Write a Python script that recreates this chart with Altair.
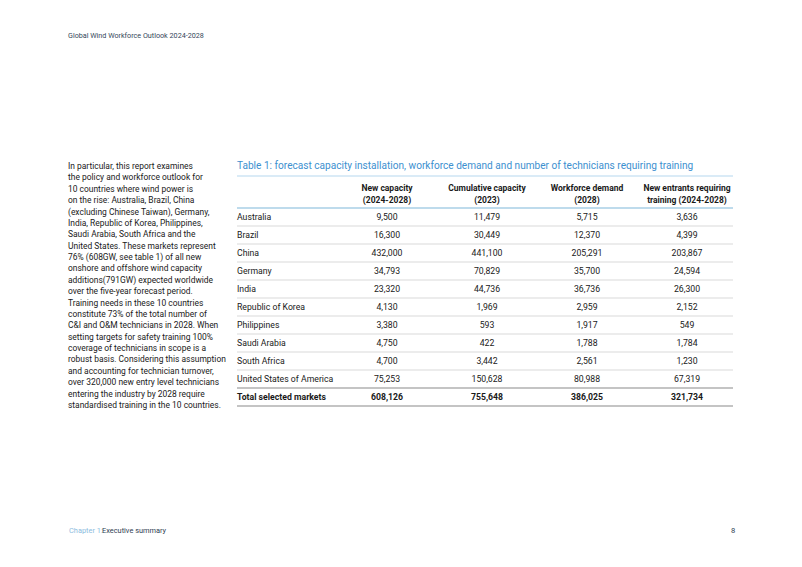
import altair as alt
import pandas as pd

# ---------------- data ----------------
countries = ["Australia", "Brazil", "China", "Germany", "India", "Republic of Korea",
             "Philippines", "Saudi Arabia", "South Africa", "United States of America",
             "Total selected markets"]
new_capacity = [9500, 16300, 432000, 34793, 23320, 4130, 3380, 4750, 4700, 75253, 608126]
cumulative = [11479, 30449, 441100, 70829, 44736, 1969, 593, 422, 3442, 150628, 755648]
workforce = [5715, 12370, 205291, 35700, 36736, 2959, 1917, 1788, 2561, 80988, 386025]
entrants = [3636, 4399, 203867, 24594, 26300, 2152, 549, 1784, 1230, 67319, 321734]

col_keys = ["country", "new", "cum", "work", "entr"]
headers = ["New capacity\n(2024-2028)", "Cumulative capacity\n(2023)",
           "Workforce demand\n(2028)", "New entrants requiring\ntraining (2024-2028)"]

page_header = "Global Wind Workforce Outlook 2024-2028"
table_title = ("Table 1: forecast capacity installation, workforce demand and number "
               "of technicians requiring training")
paragraph = [
    "In particular, this report examines",
    "the policy and workforce outlook for",
    "10 countries where wind power is",
    "on the rise: Australia, Brazil, China",
    "(excluding Chinese Taiwan), Germany,",
    "India, Republic of Korea, Philippines,",
    "Saudi Arabia, South Africa and the",
    "United States. These markets represent",
    "76% (608GW, see table 1) of all new",
    "onshore and offshore wind capacity",
    "additions(791GW) expected worldwide",
    "over the five-year forecast period.",
    "Training needs in these 10 countries",
    "constitute 73% of the total number of",
    "C&I and O&M technicians in 2028. When",
    "setting targets for  safety training 100%",
    "coverage of technicians in scope is a",
    "robust basis. Considering this assumption",
    "and accounting for technician turnover,",
    "over 320,000 new entry level technicians",
    "entering the industry by 2028 require",
    "standardised training in the 10 countries.",
]
footer_chapter = "Chapter 1:"
footer_section = "Executive summary"
page_number = "8"

# ---------------- tables for the library ----------------
n = len(countries)
total_idx = n - 1
series = {"new": new_capacity, "cum": cumulative, "work": workforce, "entr": entrants}
cells = pd.DataFrame([
    {"row": i, "col": k, "value": series[k][i], "bold": i == total_idx}
    for k in ["new", "cum", "work", "entr"] for i in range(n)
])
labels = pd.DataFrame({"row": list(range(n)), "col": "country", "label": countries,
                       "bold": [i == total_idx for i in range(n)]})
head_df = pd.DataFrame({"col": ["new", "cum", "work", "entr"], "text": headers})
thin_rules = pd.DataFrame({"pos": [i + 0.5 for i in range(n - 2)]})
thick_rules = pd.DataFrame({"pos": [n - 1.5, n - 0.5]})
head_rule = pd.DataFrame({"pos": [-0.5]})

FONT = "Roboto"
TXT = "#191919"

xscale = alt.Scale(type="band", domain=col_keys, range=[229, 729],
                   paddingInner=0, paddingOuter=0)
yscale = alt.Scale(domain=[0, n - 1], range=[209, 389], zero=False, nice=False)


def X(**kw):
    return alt.X("col:N", scale=xscale, axis=None, **kw)


Y = alt.Y("row:Q", scale=yscale, axis=None)


def value_layer(bold):
    return alt.Chart(cells).transform_filter(
        "datum.bold" if bold else "!datum.bold"
    ).mark_text(
        font=FONT, fontSize=8.7, color=TXT, align="center", baseline="middle",
        fontWeight="bold" if bold else "normal",
    ).encode(x=X(), y=Y, text=alt.Text("value:Q", format=","))


def label_layer(bold):
    return alt.Chart(labels).transform_filter(
        "datum.bold" if bold else "!datum.bold"
    ).mark_text(
        font=FONT, fontSize=8.7, color=TXT, align="left", baseline="middle",
        fontWeight="bold" if bold else "normal",
    ).encode(x=X(bandPosition=0), y=Y, text="label:N")


head_layer = alt.Chart(head_df).mark_text(
    font=FONT, fontSize=8.5, fontWeight="bold", color=TXT, align="center",
    baseline="middle", lineBreak="\n", lineHeight=12
).encode(x=X(), y=alt.value(180), text="text:N")


def rules(df, color, width):
    return alt.Chart(df).mark_rule(color=color, strokeWidth=width).encode(
        y=alt.Y("pos:Q", scale=yscale, axis=None),
        x=alt.value(229), x2=alt.value(725),
    )


thin_layer = rules(thin_rules, "#d9d9d9", 1)
thick_layer = rules(thick_rules, "#c4c4c4", 2)
head_rule_layer = rules(head_rule, "#a8cfe6", 1.5)

title_layer = alt.Chart(pd.DataFrame({"t": [table_title]})).mark_text(
    font=FONT, fontSize=10.1, color="#3d90cf", align="left", baseline="middle"
).encode(x=alt.value(229), y=alt.value(158), text="t:N")

title_rule = alt.Chart(pd.DataFrame({"t": [0]})).mark_rule(
    color="#b5d7ee", strokeWidth=1
).encode(x=alt.value(229), x2=alt.value(725), y=alt.value(168))

para_layer = alt.Chart(pd.DataFrame({"t": ["\n".join(paragraph)]})).mark_text(
    font=FONT, fontSize=8.45, color=TXT, align="left", baseline="middle",
    lineBreak="\n", lineHeight=11.38
).encode(x=alt.value(60), y=alt.value(158), text="t:N")

top_header = alt.Chart(pd.DataFrame({"t": [page_header]})).mark_text(
    font=FONT, fontSize=7.2, color="#34475a", align="left", baseline="middle"
).encode(x=alt.value(60), y=alt.value(28), text="t:N")

foot1 = alt.Chart(pd.DataFrame({"t": [footer_chapter]})).mark_text(
    font=FONT, fontSize=7.4, color="#8cbde0", align="left", baseline="middle"
).encode(x=alt.value(61), y=alt.value(523), text="t:N")

foot2 = alt.Chart(pd.DataFrame({"t": [footer_section]})).mark_text(
    font=FONT, fontSize=7.4, color="#2f4052", align="left", baseline="middle"
).encode(x=alt.value(94), y=alt.value(523), text="t:N")

foot3 = alt.Chart(pd.DataFrame({"t": [page_number]})).mark_text(
    font=FONT, fontSize=7.6, color="#2f4052", align="left", baseline="middle"
).encode(x=alt.value(723), y=alt.value(523), text="t:N")

chart = alt.layer(
    thin_layer, thick_layer, head_rule_layer, title_rule,
    value_layer(False), value_layer(True), label_layer(False), label_layer(True),
    head_layer, title_layer, para_layer, top_header, foot1, foot2, foot3,
).properties(
    width=786, height=551, padding=0, background="white",
    autosize=alt.AutoSizeParams(type="none"),
).configure_view(stroke=None)

chart.save("out.html", embed_options={"renderer": "svg", "actions": False})
